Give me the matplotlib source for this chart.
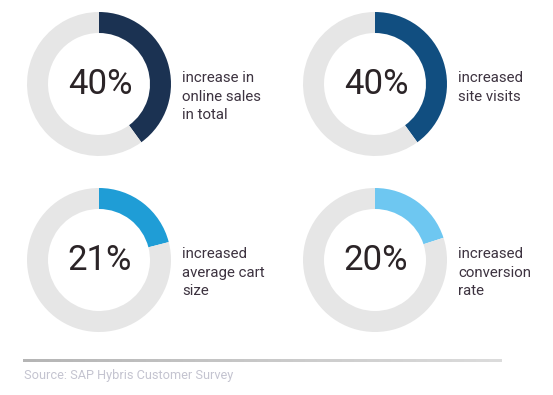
import matplotlib
matplotlib.use("Agg")
import matplotlib.pyplot as plt
import numpy as np
from matplotlib.colors import LinearSegmentedColormap

values = [40, 40, 21, 20]
pct_labels = ["40%", "40%", "21%", "20%"]
descriptions = ["increase in\nonline sales\nin total",
                "increased\nsite visits",
                "increased\naverage cart\nsize",
                "increased\nconversion\nrate"]
colors = ["#1b3252", "#114e80", "#1f9dd6", "#6ec7f1"]
source = "Source: SAP Hybris Customer Survey"

W, H = 553, 395
fig = plt.figure(figsize=(W / 100, H / 100), dpi=100)
ax = fig.add_axes([0, 0, 1, 1])

centers = [(99, 84), (375, 84), (99, 260), (375, 260)]
R = 72
width = 21

for v, lab, desc, col, (cx, cy) in zip(values, pct_labels, descriptions, colors, centers):
    yc = H - cy
    ax.pie([v, 100 - v], colors=[col, "#e6e6e6"], startangle=90, counterclock=False,
           radius=R, center=(cx, yc), wedgeprops=dict(width=width, edgecolor="none"))
    ax.text(cx + 1, yc, lab, ha="center", va="center", fontsize=25,
            family="Roboto", color="#2b2427")
    ax.text(cx + 83, yc + 12.5, desc, ha="left", va="top", fontsize=10.8,
            family="Roboto", color="#3d3340", linespacing=1.38)

# gradient rule
grad = np.linspace(0, 1, 256).reshape(1, -1)
cmap = LinearSegmentedColormap.from_list("g", ["#b5b5b5", "#dcdcdc"])
ax.imshow(grad, cmap=cmap, extent=(23, 502, H - 362.5, H - 360), aspect="auto", zorder=1)

ax.text(24, H - 375, source, ha="left", va="center", fontsize=9.2,
        family="Roboto", color="#c4c4d0")

ax.set_xlim(0, W)
ax.set_ylim(0, H)
ax.set_aspect("auto")
ax.axis("off")
fig.savefig("out.png", dpi=100)
